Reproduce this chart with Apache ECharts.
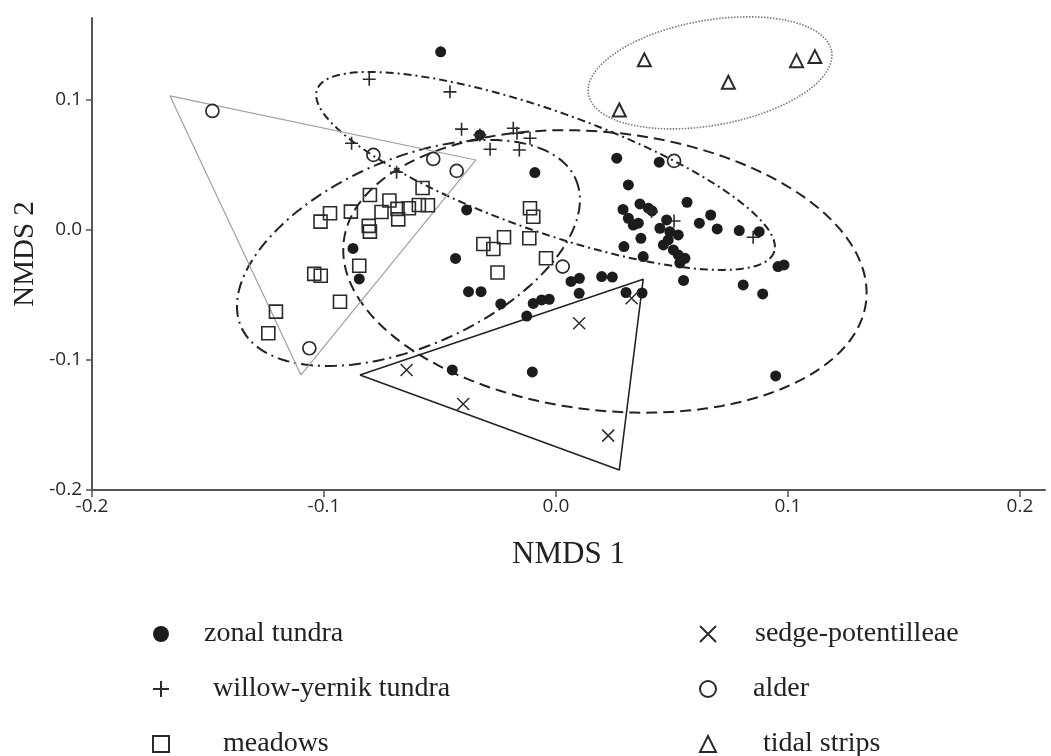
<!DOCTYPE html>
<html>
<head>
<meta charset="utf-8">
<script src="https://cdn.jsdelivr.net/npm/echarts@6/dist/echarts.min.js"></script>
<style>
  html, body { margin: 0; padding: 0; background: #fff; }
  #chart { width: 1051px; height: 756px; }
</style>
</head>
<body>
<div id="chart"></div>
<script>
// NMDS scores, one array per vegetation type
const zonalTundra = [
  [-0.0497, 0.137], [-0.0385, 0.0154], [-0.0875, -0.0142], [-0.0848, -0.0377],
  [-0.0433, -0.0219], [-0.0377, -0.0475], [-0.0323, -0.0475], [-0.0238, -0.0569],
  [-0.0126, -0.0662], [-0.0098, -0.0565], [-0.0062, -0.0538], [-0.0029, -0.0533],
  [0.0065, -0.0396], [0.0101, -0.0372], [0.0100, -0.0487], [0.0197, -0.0359],
  [0.0243, -0.0362], [0.0302, -0.0481], [0.0371, -0.0485], [-0.0447, -0.1077],
  [-0.0102, -0.1092], [-0.0091, 0.0441], [0.0262, 0.0552], [0.0445, 0.0521],
  [0.0312, 0.0346], [0.0565, 0.0213], [0.0289, 0.0158], [0.0362, 0.0200],
  [0.0398, 0.0167], [0.0414, 0.0146], [0.0312, 0.0090], [0.0333, 0.0038],
  [0.0355, 0.0052], [0.0477, 0.0077], [0.0448, 0.0013], [0.0491, -0.0013],
  [0.0527, -0.0038], [0.0366, -0.0064], [0.0293, -0.0128], [0.0463, -0.0115],
  [0.0484, -0.0077], [0.0506, -0.0154], [0.0527, -0.0192], [0.0556, -0.0218],
  [0.0534, -0.0254], [0.0376, -0.0205], [0.0618, 0.0052], [0.0667, 0.0115],
  [0.0695, 0.0008], [0.0790, -0.0005], [0.0876, -0.0013], [0.0957, -0.0282],
  [0.0983, -0.0269], [0.0550, -0.0388], [0.0807, -0.0423], [0.0891, -0.0492],
  [0.0947, -0.1123], [-0.0328, 0.0731]
];
const willowTundra = [
  [-0.0805, 0.1159], [-0.0457, 0.1062], [-0.0407, 0.0775], [-0.0328, 0.0731],
  [-0.0284, 0.0621], [-0.0184, 0.0782], [-0.0168, 0.0744], [-0.0112, 0.0705],
  [-0.0158, 0.0615], [-0.0881, 0.0667], [-0.0687, 0.0444], [0.0509, 0.0069],
  [0.0412, 0.0141], [0.0850, -0.0056]
];
const meadows = [
  [-0.0802, 0.0269], [-0.0718, 0.0227], [-0.0575, 0.0323], [-0.0974, 0.0128],
  [-0.1015, 0.0064], [-0.0884, 0.0141], [-0.0752, 0.0138], [-0.0683, 0.0162],
  [-0.0680, 0.0081], [-0.0634, 0.0167], [-0.0591, 0.0192], [-0.0552, 0.0190],
  [-0.0807, 0.0031], [-0.0802, -0.0013], [-0.0848, -0.0275], [-0.1042, -0.0338],
  [-0.1014, -0.0352], [-0.0931, -0.0552], [-0.1207, -0.0628], [-0.1240, -0.0795],
  [-0.0112, 0.0167], [-0.0098, 0.0102], [-0.0224, -0.0056], [-0.0115, -0.0064],
  [-0.0313, -0.0108], [-0.0270, -0.0146], [-0.0043, -0.0218], [-0.0252, -0.0327]
];
const sedge = [
  [-0.0644, -0.1077], [-0.0400, -0.1338], [0.0100, -0.0718], [0.0225, -0.1582], [0.0326, -0.0525]
];
const alder = [
  [-0.1481, 0.0915], [-0.0787, 0.0577], [-0.0529, 0.0546], [-0.0428, 0.0454],
  [-0.1063, -0.0910], [0.0029, -0.0282], [0.0509, 0.0531]
];
const tidalStrips = [
  [0.0381, 0.1308], [0.1037, 0.1302], [0.1116, 0.1333], [0.0743, 0.1136], [0.0273, 0.0923]
];

// group outlines: ellipse = [centerX, centerY, axis1 dx, axis1 dy, axis2 dx, axis2 dy]
const zonalEllipse = [0.0211, -0.0319, 0.1126, -0.0229, -0.0068, -0.1062];
const meadowsEllipse = [-0.0636, -0.0177, 0.0721, 0.0568, 0.0163, -0.0658];
const willowEllipse = [-0.0045, 0.0454, 0.0985, -0.0625, -0.0087, -0.0435];
const tidalEllipse = [0.0664, 0.1208, 0.0524, 0.0165, 0.0039, -0.0398];
const alderHull = [[-0.1664, 0.1031], [-0.0345, 0.0538], [-0.1099, -0.1115]];
const sedgeHull = [[-0.0845, -0.1115], [0.0376, -0.0379], [0.0273, -0.1846]];

const xTicks = [-0.2, -0.1, 0, 0.1, 0.2];
const yTicks = [-0.2, -0.1, 0, 0.1];

const chart = echarts.init(document.getElementById('chart'));

const ink = '#1c1c1c';
const serif = '"Liberation Serif", "DejaVu Serif", serif';

const ellipseSeries = (params, stroke, lineWidth, lineDash) => ({
  type: 'custom',
  coordinateSystem: 'cartesian2d',
  silent: true,
  z: 1,
  encode: { x: 0, y: 1 },
  data: [params],
  renderItem: (p, api) => {
    const c = api.coord([api.value(0), api.value(1)]);
    const u = api.coord([api.value(0) + api.value(2), api.value(1) + api.value(3)]);
    const v = api.coord([api.value(0) + api.value(4), api.value(1) + api.value(5)]);
    const pts = [];
    for (let i = 0; i < 180; i++) {
      const t = (i / 180) * Math.PI * 2;
      pts.push([
        c[0] + (u[0] - c[0]) * Math.cos(t) + (v[0] - c[0]) * Math.sin(t),
        c[1] + (u[1] - c[1]) * Math.cos(t) + (v[1] - c[1]) * Math.sin(t)
      ]);
    }
    return {
      type: 'polygon',
      shape: { points: pts },
      style: { fill: 'none', stroke, lineWidth, lineDash }
    };
  }
});

const hullSeries = (pts, color, width) => ({
  type: 'line',
  silent: true,
  z: 1,
  symbol: 'none',
  data: pts.concat([pts[0]]),
  lineStyle: { color, width },
  animation: false
});

const pointSeries = (name, data, symbol, size, filled, borderWidth) => ({
  name,
  type: 'scatter',
  z: 3,
  data,
  symbol,
  symbolSize: size,
  itemStyle: {
    color: filled ? ink : 'rgba(0,0,0,0)',
    borderColor: filled ? ink : '#2a2a2a',
    borderWidth: filled ? 0 : borderWidth,
    opacity: 1
  }
});

const plusPath = 'path://M0,5L10,5M5,0L5,10';
const crossPath = 'path://M0,0L10,10M10,0L0,10';

const legendText = pad => ({ textStyle: { padding: [0, 0, 0, pad] } });

const legendBase = {
  orient: 'vertical',
  top: 620,
  height: 170,
  padding: 0,
  itemWidth: 16,
  itemHeight: 16,
  itemGap: 27,
  textStyle: { fontFamily: serif, fontSize: 28, color: '#222', lineHeight: 22 }
};

chart.setOption({
  animation: false,
  backgroundColor: '#fff',
  grid: { left: 92, right: 6, top: 18, bottom: 266, containLabel: false, outerBoundsMode: 'none' },
  xAxis: {
    type: 'value',
    min: -0.2,
    max: 0.2108,
    interval: 0.1,
    name: 'NMDS 1',
    nameLocation: 'middle',
    nameGap: 49,
    nameTextStyle: { fontFamily: serif, fontSize: 31, color: '#222' },
    splitLine: { show: false },
    axisLine: { onZero: false, lineStyle: { color: '#555', width: 2 } },
    axisTick: { length: 7, lineStyle: { color: '#555', width: 1.5 }, customValues: xTicks },
    axisLabel: {
      customValues: xTicks,
      margin: 7,
      fontFamily: '"Open Sans", sans-serif',
      fontSize: 19,
      color: '#2a2a2a',
      formatter: v => v.toFixed(1)
    }
  },
  yAxis: {
    type: 'value',
    min: -0.2,
    max: 0.163,
    interval: 0.1,
    name: 'NMDS 2',
    nameLocation: 'middle',
    nameGap: 52,
    nameMoveOverlap: false,
    nameRotate: 90,
    nameTextStyle: { fontFamily: serif, fontSize: 29, color: '#222' },
    splitLine: { show: false },
    axisLine: { onZero: false, lineStyle: { color: '#555', width: 2 } },
    axisTick: { length: 6, lineStyle: { color: '#555', width: 1.5 }, customValues: yTicks },
    axisLabel: {
      customValues: yTicks,
      margin: 10,
      fontFamily: '"Open Sans", sans-serif',
      fontSize: 19,
      color: '#2a2a2a',
      formatter: v => v.toFixed(1)
    }
  },
  legend: [
    {
      ...legendBase,
      left: 152,
      data: [
        { name: 'zonal tundra', ...legendText(30) },
        { name: 'willow-yernik tundra', ...legendText(39) },
        { name: 'meadows', ...legendText(49) }
      ]
    },
    {
      ...legendBase,
      left: 699,
      data: [
        { name: 'sedge-potentilleae', ...legendText(34) },
        { name: 'alder', ...legendText(32) },
        { name: 'tidal strips', ...legendText(42) }
      ]
    }
  ],
  series: [
    ellipseSeries(zonalEllipse, '#222', 2, [11, 6]),
    ellipseSeries(meadowsEllipse, '#222', 2, [12, 5, 2, 5]),
    ellipseSeries(willowEllipse, '#222', 2, [8, 4, 2, 4]),
    ellipseSeries(tidalEllipse, '#777', 1.6, [1.5, 1.5]),
    hullSeries(alderHull, '#a0a0a0', 1.2),
    hullSeries(sedgeHull, '#222', 1.6),
    pointSeries('zonal tundra', zonalTundra, 'circle', 11, true, 0),
    pointSeries('willow-yernik tundra', willowTundra, plusPath, 13, false, 1.6),
    pointSeries('meadows', meadows, 'rect', 13, false, 1.6),
    pointSeries('sedge-potentilleae', sedge, crossPath, 12, false, 1.5),
    pointSeries('alder', alder, 'circle', 13, false, 1.7),
    pointSeries('tidal strips', tidalStrips, 'triangle', 13, false, 2)
  ]
});
</script>
</body>
</html>
